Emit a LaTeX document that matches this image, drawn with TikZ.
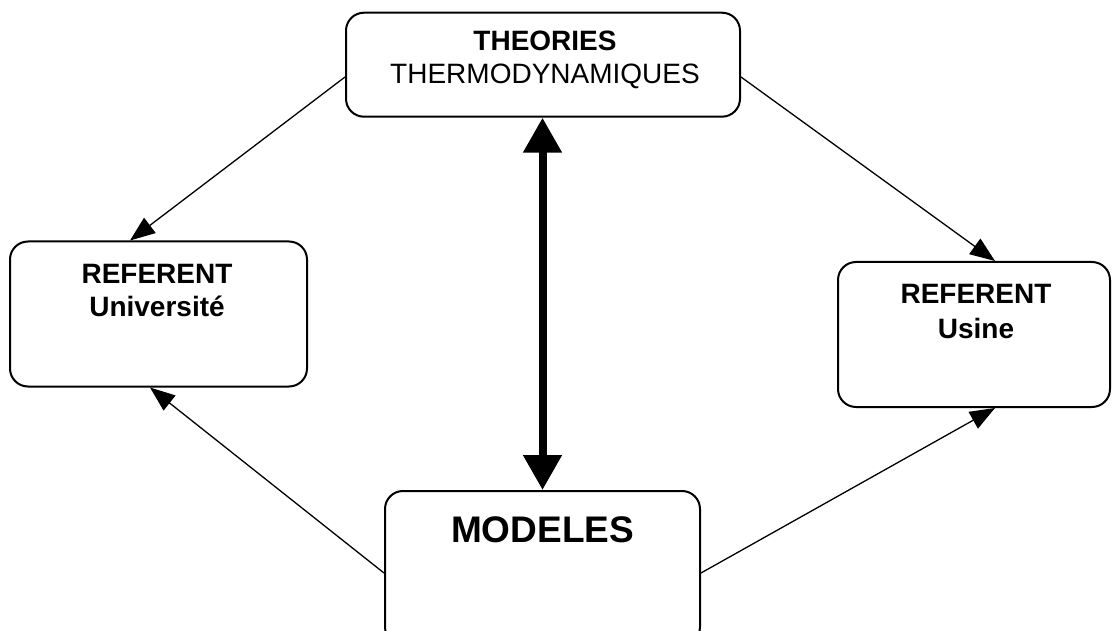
\documentclass[tikz,border=0pt]{standalone}
\usepackage{fontspec}
\setmainfont{Liberation Sans}
\usetikzlibrary{arrows.meta}
\tikzset{
  box/.style={draw, line width=2pt, rounded corners=18pt, inner sep=0pt},
  lbl/.style={align=center, inner sep=0pt, font=\fontsize{28}{33}\selectfont},
  big/.style={inner sep=0pt, font=\fontsize{37}{44}\selectfont\bfseries},
  thin/.style={line width=1.3pt, -{Triangle[length=25pt,width=19pt]}},
  thick/.style={line width=8pt, {Triangle[length=35pt,width=37pt]}-{Triangle[length=35pt,width=37pt]}}
}
\begin{document}
\begin{tikzpicture}[x=1pt,y=-1pt]
\clip (0,0) rectangle (1112,631);
\node[box, minimum width=394pt, minimum height=104pt] (top) at (543,64.7) {};
\node[box, minimum width=297pt, minimum height=145pt] (left) at (158.5,314) {};
\node[box, minimum width=272pt, minimum height=145pt] (right) at (974,334.5) {};
\node[box, minimum width=315pt, minimum height=154pt] (bot) at (542.5,568) {};
\node[lbl] (toptxt) at (545,60) {\textbf{THEORIES}\\THERMODYNAMIQUES};
\node[lbl, font=\fontsize{28}{33}\selectfont\bfseries] (lefttxt) at (157,291) {REFERENT\\Université};
\node[lbl, font=\fontsize{28}{35}\selectfont\bfseries] (righttxt) at (976,312) {REFERENT\\Usine};
\node[big] (bottxt) at (542.5,530) {MODELES};
\draw[thin] ([yshift=-12.3pt]top.west) -- ([xshift=-28.5pt]left.north);
\draw[thin] ([yshift=-12.3pt]top.east) -- ([xshift=21pt]right.north);
\draw[thin] ([yshift=-5pt]bot.west) -- ([xshift=-8.5pt]left.south);
\draw[thin] ([yshift=-5pt]bot.east) -- ([xshift=21pt]right.south);
\draw[thick] (top.south -| bot.north) -- (bot.north);
\end{tikzpicture}
\end{document}
